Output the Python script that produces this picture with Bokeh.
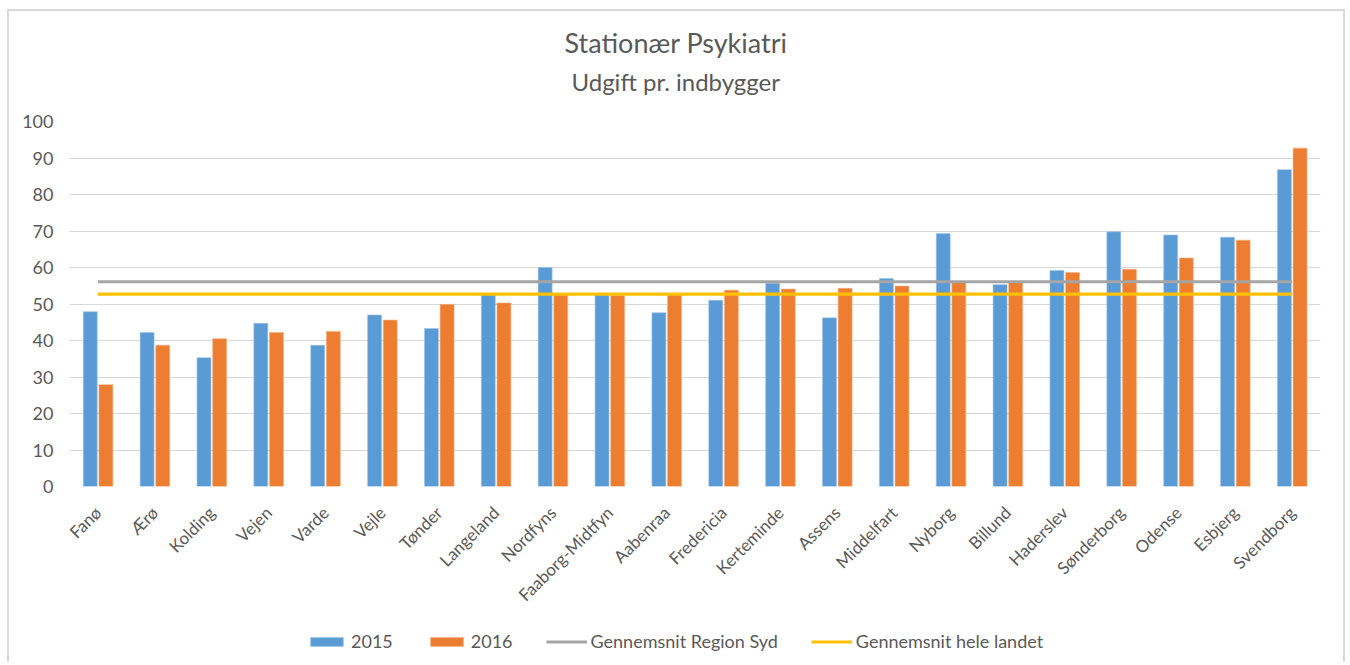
from math import pi
from bokeh.plotting import figure
from bokeh.layouts import column
from bokeh.models import FactorRange, Legend, LegendItem, Title, SingleIntervalTicker, Range1d
from bokeh.transform import dodge
from bokeh.embed import file_html
from bokeh.resources import INLINE

municipalities = ["Fanø", "Ærø", "Kolding", "Vejen", "Varde", "Vejle", "Tønder", "Langeland",
                  "Nordfyns", "Faaborg-Midtfyn", "Aabenraa", "Fredericia", "Kerteminde", "Assens",
                  "Middelfart", "Nyborg", "Billund", "Haderslev", "Sønderborg", "Odense",
                  "Esbjerg", "Svendborg"]
values_2015 = [47.9, 42.2, 35.3, 44.7, 38.7, 47.0, 43.3, 52.8, 60.0, 52.6, 47.6, 51.0,
               55.7, 46.2, 57.0, 69.3, 55.3, 59.2, 69.8, 68.9, 68.3, 86.8]
values_2016 = [27.9, 38.7, 40.5, 42.2, 42.5, 45.6, 49.9, 50.3, 52.7, 52.4, 52.8, 53.8,
               54.1, 54.3, 54.9, 56.0, 56.0, 58.6, 59.5, 62.6, 67.5, 92.7]
region_syd_avg = 56.1
national_avg = 52.7
series_labels = ["2015", "2016", "Gennemsnit Region Syd", "Gennemsnit hele landet"]

FONT = "Lato"
TXT = "#595959"
C15, C16, CREG, CNAT = "#5b9bd5", "#ed7d31", "#a5a5a5", "#ffc000"
W = 1334


def draw_series(fig):
    src = dict(m=municipalities, v15=values_2015, v16=values_2016)
    b15 = fig.vbar(x=dodge("m", -0.135, range=fig.x_range), top="v15", width=0.245, source=src,
                   fill_color=C15, line_color="#9dc3e6", line_width=0.6)
    b16 = fig.vbar(x=dodge("m", 0.14, range=fig.x_range), top="v16", width=0.245, source=src,
                   fill_color=C16, line_color="#f4b183", line_width=0.6)
    l1 = fig.line(x=[municipalities[0], municipalities[-1]], y=[region_syd_avg, region_syd_avg],
                  line_color=CREG, line_width=3.2)
    l2 = fig.line(x=[municipalities[0], municipalities[-1]], y=[national_avg, national_avg],
                  line_color=CNAT, line_width=3.2)
    return [b15, b16, l1, l2]


p = figure(x_range=FactorRange(*municipalities, range_padding=0), y_range=Range1d(0, 100),
           width=W, height=609, output_backend="svg", toolbar_location=None,
           min_border_left=60, min_border_right=23, min_border_top=110, min_border_bottom=134,
           title=None)
p.outline_line_color = None
p.background_fill_color = "white"
p.border_fill_color = "white"
draw_series(p)

# axes
p.yaxis.ticker = SingleIntervalTicker(interval=10)
p.yaxis.axis_line_color = None
p.yaxis.major_tick_line_color = None
p.yaxis.minor_tick_line_color = None
p.yaxis.major_label_text_font = FONT
p.yaxis.major_label_text_font_size = "18px"
p.yaxis.major_label_text_color = TXT
p.yaxis.major_label_standoff = 10

p.xaxis.axis_line_color = None
p.xaxis.major_tick_line_color = None
p.xaxis.minor_tick_line_color = None
p.xaxis.major_label_orientation = pi / 4
p.xaxis.major_label_text_font = FONT
p.xaxis.major_label_text_font_size = "17px"
p.xaxis.major_label_text_color = TXT
p.xaxis.major_label_standoff = 17

p.xgrid.grid_line_color = None
p.ygrid.grid_line_color = "#d9d9d9"
p.ygrid.grid_line_width = 1

# titles
p.add_layout(Title(text="Udgift pr. indbygger", align="left", text_font=FONT,
                   text_font_size="24px", text_color=TXT, text_font_style="normal",
                   offset=502, standoff=52), "above")
p.add_layout(Title(text="Stationær Psykiatri", align="left", text_font=FONT,
                   text_font_size="27px", text_color=TXT, text_font_style="normal",
                   offset=495, standoff=-40), "above")

# legend strip (same series, hidden, used only for the legend keys)
lg = figure(x_range=FactorRange(*municipalities, range_padding=0), y_range=Range1d(0, 100),
            width=W, height=42, output_backend="svg", toolbar_location=None, min_border=0)
lg.axis.visible = False
lg.grid.visible = False
lg.outline_line_color = None
keys = draw_series(lg)
for r in keys:
    r.visible = False
legend = Legend(items=[LegendItem(label=lab, renderers=[r]) for lab, r in zip(series_labels, keys)],
                orientation="horizontal", location=(237, 10), padding=0, margin=0,
                spacing=33, glyph_width=41, glyph_height=11, label_standoff=4,
                label_text_font=FONT, label_text_font_size="18px", label_text_color=TXT,
                border_line_color=None, background_fill_alpha=0, inactive_fill_alpha=0)
lg.add_layout(legend, "center")

layout = column(p, lg, spacing=0)
layout.styles = {"border-left": "2px solid #d9d9d9", "border-top": "2px solid #d9d9d9",
                 "border-right": "2px solid #d9d9d9", "margin-left": "7px", "margin-top": "9px"}
open("out.html", "w").write(file_html(layout, INLINE))
